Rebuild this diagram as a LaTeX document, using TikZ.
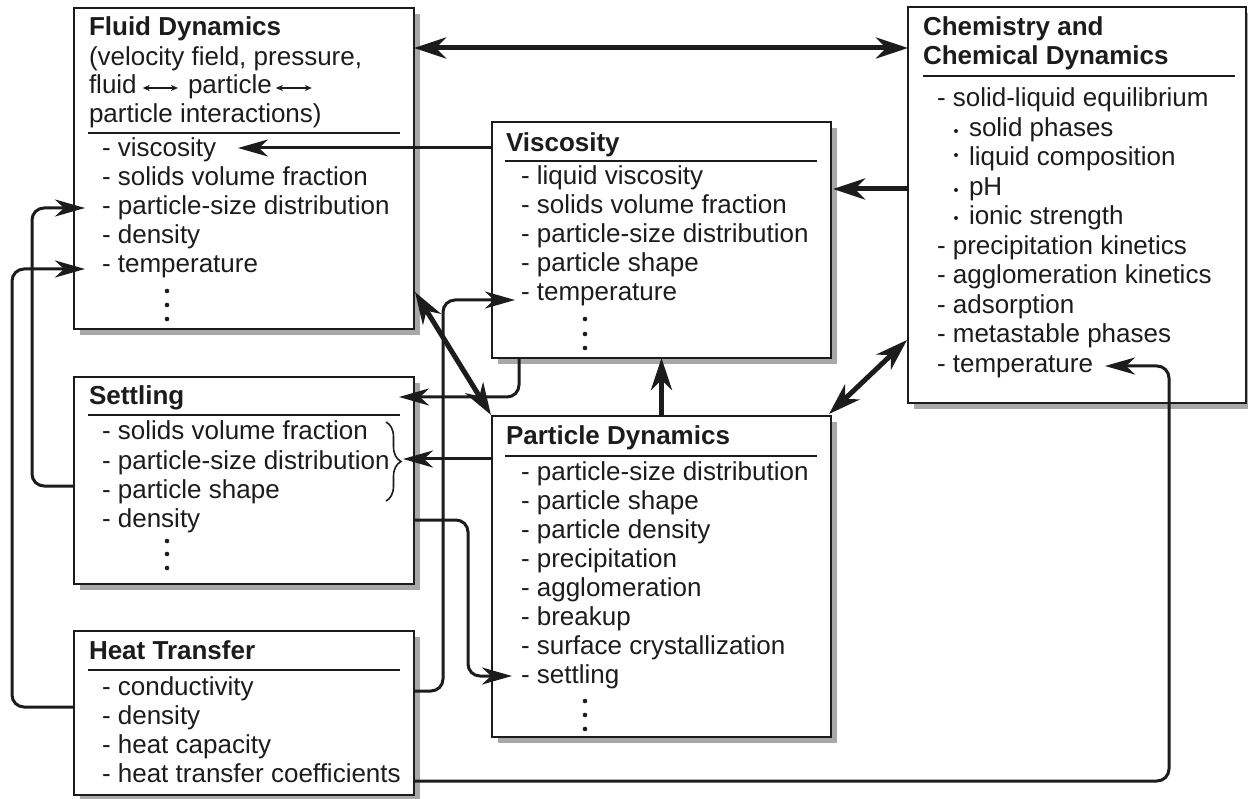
\documentclass[tikz,border=0pt]{standalone}
\usepackage{fontspec}
\setmainfont{Liberation Sans}
\usetikzlibrary{arrows.meta,calc,decorations.pathreplacing}
\definecolor{ink}{HTML}{1C1C1C}
\definecolor{shadowgrey}{RGB}{168,168,168}
\pgfdeclarelayer{bg}
\pgfdeclarelayer{shadowlayer}
\pgfsetlayers{bg,shadowlayer,main}
\begin{document}
\begin{tikzpicture}[x=1pt,y=-1pt,
  box/.style={draw=ink, fill=white, line width=2pt, inner sep=0pt, outer sep=0pt, anchor=north west},
  txt/.style={anchor=base west, inner sep=0pt, outer sep=0pt, text=ink, font=\fontsize{26pt}{29pt}\selectfont},
  ttl/.style={txt, font=\fontsize{26pt}{29pt}\selectfont\bfseries},
  rulel/.style={draw=ink, line width=2.4pt},
  dotf/.style={fill=ink},
  shadowfill/.style={fill=shadowgrey},
  thinarr/.style={draw=ink, line width=3pt, rounded corners=12pt, -{Stealth[length=30pt,width=17pt,inset=9pt]}},
  thickarr/.style={draw=ink, line width=5pt, -{Stealth[length=32pt,width=21pt,inset=10pt]}},
  thickdbl/.style={draw=ink, line width=5pt, {Stealth[length=32pt,width=21pt,inset=10pt]}-{Stealth[length=32pt,width=21pt,inset=10pt]}},
  smallarr/.style={draw=ink, line width=1.3pt, {Stealth[length=7pt,width=6pt,inset=2pt]}-{Stealth[length=7pt,width=6pt,inset=2pt]}}
]
\begin{pgfonlayer}{bg}
\fill[white] (0,0) rectangle (1248,799);
\end{pgfonlayer}
\useasboundingbox (0,0) rectangle (1248,799);

% ---------- boxes ----------
\node[box, minimum width=340pt, minimum height=321pt] (fluid) at (74,8) {};
\node[box, minimum width=339pt, minimum height=236pt] (visc) at (492,122) {};
\node[box, minimum width=340pt, minimum height=207pt] (sett) at (74,377) {};
\node[box, minimum width=340pt, minimum height=164pt] (heat) at (74,631) {};
\node[box, minimum width=339pt, minimum height=321pt] (part) at (492,416) {};
\node[box, minimum width=338pt, minimum height=396pt] (chem) at (908,7) {};

\begin{pgfonlayer}{shadowlayer}
\foreach \b in {fluid,visc,sett,heat,part,chem}{
  \fill[shadowfill] ($(\b.north west)+(6,6)$) rectangle ($(\b.south east)+(6,6)$);
}
\end{pgfonlayer}

% ---------- Fluid Dynamics ----------
\node[ttl] (f0) at (89,36) {Fluid Dynamics};
\node[txt] (f1) at (89,66) {(velocity field, pressure,};
\node[txt] (f2a) at (89,94) {fluid};
\node[txt] (f2b) at (188,94) {particle};
\draw[smallarr] ($(f2a.base east)+(6,-6)$) -- ($(f2b.base west)+(-10,-6)$);
\draw[smallarr] ($(f2b.base east)+(4,-6)$) -- ++(36,0);
\node[txt] (f3) at (89,123) {particle interactions)};
\draw[rulel] ($(fluid.north west)+(14,125)$) -- ++(312,0);
\node[txt] (fi1) at (102,157) {- viscosity};
\node[txt] (fi2) at (102,186) {- solids volume fraction};
\node[txt] (fi3) at (102,215) {- particle-size distribution};
\node[txt] (fi4) at (102,244) {- density};
\node[txt] (fi5) at (102,273) {- temperature};
\fill[dotf] (167,291) circle (2.3pt) (167,305) circle (2.3pt) (167,319) circle (2.3pt);

% ---------- Viscosity ----------
\node[ttl] (v0) at (506,152) {Viscosity};
\draw[rulel] ($(visc.north west)+(13,39)$) -- ++(312,0);
\node[txt] (vi1) at (521,185) {- liquid viscosity};
\node[txt] (vi2) at (521,214) {- solids volume fraction};
\node[txt] (vi3) at (521,243) {- particle-size distribution};
\node[txt] (vi4) at (521,272) {- particle shape};
\node[txt] (vi5) at (521,301) {- temperature};
\fill[dotf] (585,319) circle (2.3pt) (585,334) circle (2.3pt) (585,348) circle (2.3pt);

% ---------- Settling ----------
\node[ttl] (s0) at (89,405) {Settling};
\draw[rulel] ($(sett.north west)+(14,38)$) -- ++(312,0);
\node[txt] (si1) at (102,440) {- solids volume fraction};
\node[txt] (si2) at (102,469) {- particle-size distribution};
\node[txt] (si3) at (102,498) {- particle shape};
\node[txt] (si4) at (102,527) {- density};
\fill[dotf] (167,541) circle (2.3pt) (167,554) circle (2.3pt) (167,568) circle (2.3pt);
\draw[ink, line width=1.6pt, decorate, decoration={brace, amplitude=15pt}] (386,422) -- (386,501);

% ---------- Heat Transfer ----------
\node[ttl] (h0) at (89,659) {Heat Transfer};
\draw[rulel] ($(heat.north west)+(14,39)$) -- ++(312,0);
\node[txt] (hi1) at (102,695) {- conductivity};
\node[txt] (hi2) at (102,724) {- density};
\node[txt] (hi3) at (102,753) {- heat capacity};
\node[txt] (hi4) at (102,782) {- heat transfer coefficients};

% ---------- Particle Dynamics ----------
\node[ttl] (p0) at (506,445) {Particle Dynamics};
\draw[rulel] ($(part.north west)+(13,40)$) -- ++(312,0);
\node[txt] (pi1) at (521,480) {- particle-size distribution};
\node[txt] (pi2) at (521,509) {- particle shape};
\node[txt] (pi3) at (521,538) {- particle density};
\node[txt] (pi4) at (521,567) {- precipitation};
\node[txt] (pi5) at (521,596) {- agglomeration};
\node[txt] (pi6) at (521,625) {- breakup};
\node[txt] (pi7) at (521,654) {- surface crystallization};
\node[txt] (pi8) at (521,683) {- settling};
\fill[dotf] (585,701) circle (2.3pt) (585,715) circle (2.3pt) (585,729) circle (2.3pt);

% ---------- Chemistry ----------
\node[ttl] (c0) at (923,36) {Chemistry and};
\node[ttl] (c1) at (923,65) {Chemical Dynamics};
\draw[rulel] ($(chem.north west)+(15,69)$) -- ++(312,0);
\node[txt] (ci1) at (937,107) {- solid-liquid equilibrium};
\node[txt] (ci2) at (969,137) {solid phases};
\node[txt] (ci3) at (969,166) {liquid composition};
\node[txt] (ci4) at (969,196) {pH};
\node[txt] (ci5) at (969,225) {ionic strength};
\fill[dotf] (956,131) circle (2pt) (956,155) circle (2pt) (956,190) circle (2pt) (956,218) circle (2pt);
\node[txt] (ci6) at (937,255) {- precipitation kinetics};
\node[txt] (ci7) at (937,284) {- agglomeration kinetics};
\node[txt] (ci8) at (937,314) {- adsorption};
\node[txt] (ci9) at (937,343) {- metastable phases};
\node[txt] (ci10) at (937,373) {- temperature};

% ---------- connectors ----------
\draw[thickdbl] ($(fluid.north east)+(0,40)$) -- ($(chem.north west)+(0,41)$);
\draw[thinarr] ($(visc.north west)+(0,26)$) -- ($(fluid.north west)+(164,140)$);
\draw[thickarr] ($(chem.north west)+(0,182)$) -- ($(visc.north east)+(2,67)$);
\draw[thickdbl] ($(chem.south west)+(-1,-63)$) -- ($(part.north east)+(-2,-2)$);
\draw[thickarr] (part.north) -- (visc.south);
\draw[thickdbl] ($(fluid.north east)+(1,284)$) -- ($(part.north west)+(-1,-1)$);
\draw[thinarr] ($(visc.south west)+(27,0)$) |- ($(sett.north east)+(-15,20)$);
\draw[thinarr] ($(part.north west)+(0,43)$) -- ($(sett.north east)+(-11,82)$);
\draw[thinarr] ($(sett.north east)+(0,143)$) -| ($(part.north west)+(-24,200)$) |- ($(part.north west)+(20,260)$);
\draw[thinarr] ($(heat.north east)+(0,60)$) -| ($(visc.north west)+(-49,278)$) |- ($(visc.north west)+(23,178)$);
\draw[thinarr] ($(sett.north west)+(0,109)$) -| ($(fluid.north west)+(-42,260)$) |- ($(fluid.north west)+(11,200)$);
\draw[thinarr] ($(heat.north west)+(0,76)$) -| ($(fluid.north west)+(-62,300)$) |- ($(fluid.north west)+(11,261)$);
\draw[thinarr] ($(heat.north east)+(0,150)$) -| ($(chem.south west)+(261,0)$) |- ($(chem.south west)+(197,-37)$);
\end{tikzpicture}
\end{document}
